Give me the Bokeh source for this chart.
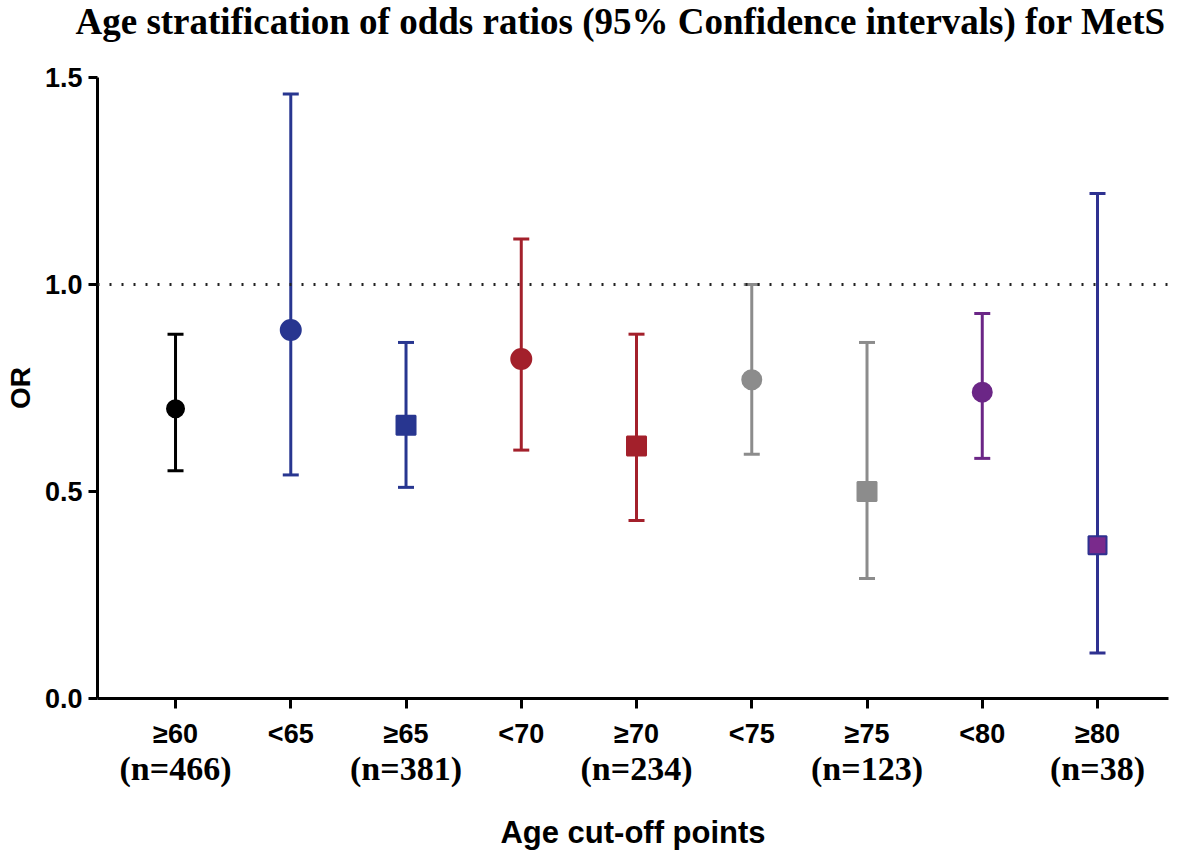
from bokeh.plotting import figure
from bokeh.models import LinearAxis, FixedTicker, Span, Range1d
from bokeh.embed import file_html
from bokeh.resources import INLINE

# ---- data ----
categories = ["≥60", "<65", "≥65", "<70", "≥70", "<75", "≥75", "<80", "≥80"]
sample_sizes = ["(n=466)", "", "(n=381)", "", "(n=234)", "", "(n=123)", "", "(n=38)"]
odds_ratio = [0.70, 0.89, 0.66, 0.82, 0.61, 0.77, 0.50, 0.74, 0.37]
ci_lower = [0.55, 0.54, 0.51, 0.60, 0.43, 0.59, 0.29, 0.58, 0.11]
ci_upper = [0.88, 1.46, 0.86, 1.11, 0.88, 1.00, 0.86, 0.93, 1.22]
y_ticks = [0.0, 0.5, 1.0, 1.5]
reference_line = 1.0
title_text = "Age stratification of odds ratios (95% Confidence intervals) for MetS"

# ---- styles ----
NAVY = "#283690"
INDIGO = "#2e3190"
RED = "#a3202b"
GRAY = "#8c8c8c"
PURPLE = "#6b2686"
bar_colors = ["#000000", NAVY, NAVY, RED, RED, GRAY, GRAY, PURPLE, INDIGO]
fill_colors = ["#000000", NAVY, NAVY, RED, RED, GRAY, GRAY, PURPLE, "#7a2a8c"]
line_colors = ["#000000", NAVY, NAVY, RED, RED, GRAY, GRAY, PURPLE, INDIGO]
markers = ["circle", "circle", "square", "circle", "square", "circle", "square", "circle", "square"]
marker_sizes = [17, 20, 19, 20, 19, 19, 19, 19, 18]

positions = list(range(1, len(categories) + 1))

SANS = "Liberation Sans"
SERIF = "Liberation Serif"

X_START, X_END = 0.323, 9.616
p = figure(width=1173, height=852,
           x_range=Range1d(X_START, X_END), y_range=Range1d(0, 1.5),
           output_backend="svg", toolbar_location=None,
           min_border_left=97, min_border_right=5,
           min_border_top=77, min_border_bottom=154)
p.background_fill_color = "white"
p.border_fill_color = "white"
p.outline_line_color = None
p.grid.visible = False

xa = p.below[0]
ya = p.left[0]

# title (outermost element of the top panel)
p.title.text = title_text
p.title.text_font = SERIF
p.title.text_font_size = "37px"
p.title.text_font_style = "bold"
p.title.text_color = "black"
p.title.align = "left"
p.title.offset = -22
p.title.vertical_align = "top"
p.title.standoff = 0

# y axis
ya.ticker = FixedTicker(ticks=y_ticks)
ya.major_label_overrides = {t: f"{t:.1f}" for t in y_ticks}
ya.axis_line_width = 3
ya.axis_line_color = "black"
ya.major_tick_line_width = 3
ya.major_tick_out = 9
ya.major_tick_in = 0
ya.minor_tick_line_color = None
ya.major_label_text_font = SANS
ya.major_label_text_font_style = "bold"
ya.major_label_text_font_size = "27px"
ya.major_label_text_color = "black"
ya.major_label_standoff = 6
ya.axis_label = "OR"
ya.axis_label_text_font = SANS
ya.axis_label_text_font_style = "bold"
ya.axis_label_text_font_size = "28px"
ya.axis_label_text_color = "black"
ya.axis_label_standoff = 6

# x axis (first line of tick labels)
xa.ticker = FixedTicker(ticks=positions)
xa.major_label_overrides = {pos: lab for pos, lab in zip(positions, categories)}
xa.axis_line_width = 3
xa.axis_line_color = "black"
xa.major_tick_line_width = 3
xa.major_tick_out = 10
xa.major_tick_in = 0
xa.minor_tick_line_color = None
xa.major_label_text_font = SANS
xa.major_label_text_font_style = "bold"
xa.major_label_text_font_size = "27px"
xa.major_label_text_color = "black"
xa.major_label_standoff = 10

# second line of x labels (sample sizes) + axis title
xa2 = LinearAxis(ticker=FixedTicker(ticks=positions),
                 major_label_overrides={pos: lab for pos, lab in zip(positions, sample_sizes)})
xa2.axis_line_color = None
xa2.major_tick_line_color = None
xa2.minor_tick_line_color = None
xa2.major_tick_out = 0
xa2.major_tick_in = 0
xa2.major_label_text_font = SERIF
xa2.major_label_text_font_style = "bold"
xa2.major_label_text_font_size = "34px"
xa2.major_label_text_color = "black"
xa2.major_label_standoff = -2
xa2.axis_label = "Age cut-off points"
xa2.axis_label_text_font = SANS
xa2.axis_label_text_font_style = "bold"
xa2.axis_label_text_font_size = "31px"
xa2.axis_label_text_color = "black"
xa2.axis_label_standoff = 25
p.add_layout(xa2, "below")

# invisible spacer between title and frame
spacer = LinearAxis(ticker=FixedTicker(ticks=[5]), major_label_overrides={5: " "})
spacer.axis_line_color = None
spacer.major_tick_line_color = None
spacer.minor_tick_line_color = None
spacer.major_label_text_font = SANS
spacer.major_label_text_font_size = "20px"
spacer.major_tick_out = 9
spacer.major_tick_in = 0
spacer.major_label_standoff = 0
p.add_layout(spacer, "above")

# reference line at OR = 1
p.add_layout(Span(location=reference_line, dimension="width",
                  line_color="#222222", line_width=3, line_dash="2 10"))

# error bars
p.segment(x0=positions, y0=ci_lower, x1=positions, y1=ci_upper,
          line_color=bar_colors, line_width=3)
p.scatter(x=positions, y=ci_lower, marker="dash", size=16,
          line_color=bar_colors, line_width=3)
p.scatter(x=positions, y=ci_upper, marker="dash", size=16,
          line_color=bar_colors, line_width=3)

# point estimates
p.scatter(x=positions, y=odds_ratio, marker=markers, size=marker_sizes,
          fill_color=fill_colors, line_color=line_colors, line_width=2)

open("out.html", "w").write(file_html(p, INLINE))
